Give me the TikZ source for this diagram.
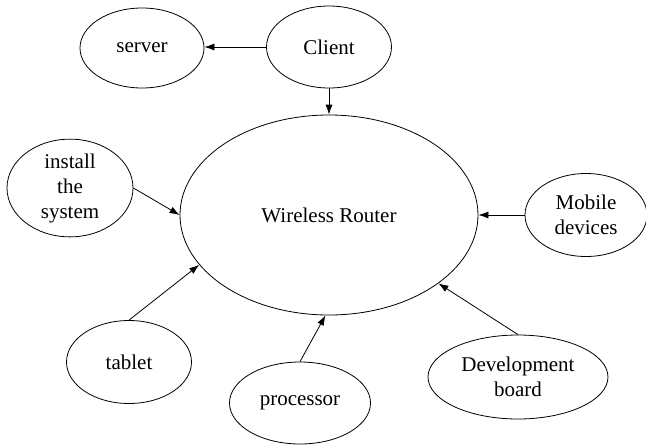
\documentclass[tikz,border=0pt]{standalone}
\usepackage{fontspec}
\setmainfont{Liberation Serif}
\usetikzlibrary{shapes.geometric,arrows.meta}
\begin{document}
\begin{tikzpicture}[x=1pt,y=-1pt,
  bubble/.style={draw,ellipse,line width=0.8pt,inner sep=0pt,align=center,
    font=\rmfamily\fontsize{21}{25}\selectfont},
  link/.style={line width=0.8pt,-{Latex[length=10pt,width=7pt]}}]
  \useasboundingbox (0,0) rectangle (646,445);
  % nodes
  \node[bubble,minimum width=124pt,minimum height=80pt] (server) at (142,48) {server};
  \node[bubble,minimum width=125pt,minimum height=82pt] (client) at (329,47) {Client};
  \node[bubble,minimum width=298pt,minimum height=200pt] (router) at (329,215) {Wireless Router};
  \node[bubble,minimum width=126pt,minimum height=84pt] (install) at (70,188) {install\\the\\system};
  \node[bubble,minimum width=122pt,minimum height=83pt] (mobile) at (586,215) {Mobile\\devices};
  \node[bubble,minimum width=125pt,minimum height=83pt] (tablet) at (129,362) {tablet};
  \node[bubble,minimum width=141pt,minimum height=82pt] (processor) at (300,403) {processor};
  \node[bubble,minimum width=180pt,minimum height=84pt] (dev) at (518,377) {Development\\board};
  % connectors
  \draw[link] (client.west) -- (client.west -| server.east);
  \draw[link] (client.south) -- (router.north);
  \draw[link] (install.east) -- (router.west);
  \draw[link] (mobile.west) -- (router.east);
  \draw[link] (dev.north) -- (router.328);
  \draw[link] (tablet.north) -- (router.201);
  \draw[link] (processor.north) -- (router.268);
\end{tikzpicture}
\end{document}
